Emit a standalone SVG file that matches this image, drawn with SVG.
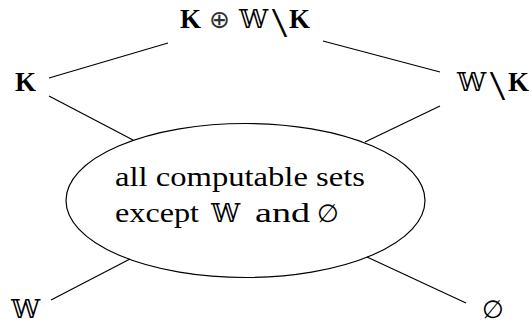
<svg xmlns="http://www.w3.org/2000/svg" width="532" height="325" viewBox="0 0 532 325">
<style>
.e{fill:none;stroke:#000;stroke-width:1.2}
line{stroke:#000;stroke-width:1.2}
</style>
<rect width="532" height="325" fill="#fff"/>
<g id="connectors">
<line x1="168" y1="43" x2="49" y2="78"/>
<line x1="323" y1="41" x2="440" y2="72"/>
<line x1="49" y1="96" x2="133" y2="140"/>
<line x1="440" y1="106" x2="365" y2="142"/>
<line x1="130" y1="259" x2="51" y2="300"/>
<line x1="367" y1="257" x2="466" y2="303"/>
</g>
<g font-family="Liberation Serif, DejaVu Serif, serif" font-size="27" fill="#000">
<g id="top">
<text font-weight="bold" x="180" y="28">K</text>
<text font-family="DejaVu Sans, sans-serif" font-size="25" fill="#333" x="209" y="28">⊕</text>
<text font-family="DejaVu Serif, serif" font-size="26" x="239" y="28">𝕎</text>
<text font-family="DejaVu Sans, sans-serif" font-weight="200" font-size="34" x="271" y="34" textLength="17" lengthAdjust="spacingAndGlyphs">\</text>
<text font-weight="bold" x="289" y="28">K</text>
</g>
<g id="left">
<text font-weight="bold" x="15" y="91">K</text>
</g>
<g id="right">
<text font-family="DejaVu Serif, serif" font-size="26" x="457" y="91">𝕎</text>
<text font-family="DejaVu Sans, sans-serif" font-weight="200" font-size="34" x="489" y="97" textLength="17" lengthAdjust="spacingAndGlyphs">\</text>
<text font-weight="bold" x="508" y="91">K</text>
</g>
<g id="center">
<ellipse class="e" cx="245.5" cy="200.5" rx="179.5" ry="77"/>
<text x="115" y="186" textLength="250" lengthAdjust="spacingAndGlyphs">all computable sets</text>
<text x="115" y="222" textLength="84" lengthAdjust="spacingAndGlyphs">except</text>
<text font-family="DejaVu Serif, serif" font-size="26" x="211" y="222">𝕎</text>
<text x="255" y="222" textLength="55" lengthAdjust="spacingAndGlyphs">and</text>
<text font-family="DejaVu Serif, serif" font-size="25" x="317" y="222">∅</text>
</g>
<g id="W">
<text font-family="DejaVu Serif, serif" x="11" y="318" font-size="26">𝕎</text>
</g>
<g id="empty">
<text font-family="DejaVu Serif, serif" x="482" y="318" font-size="25">∅</text>
</g>
</g>
</svg>
